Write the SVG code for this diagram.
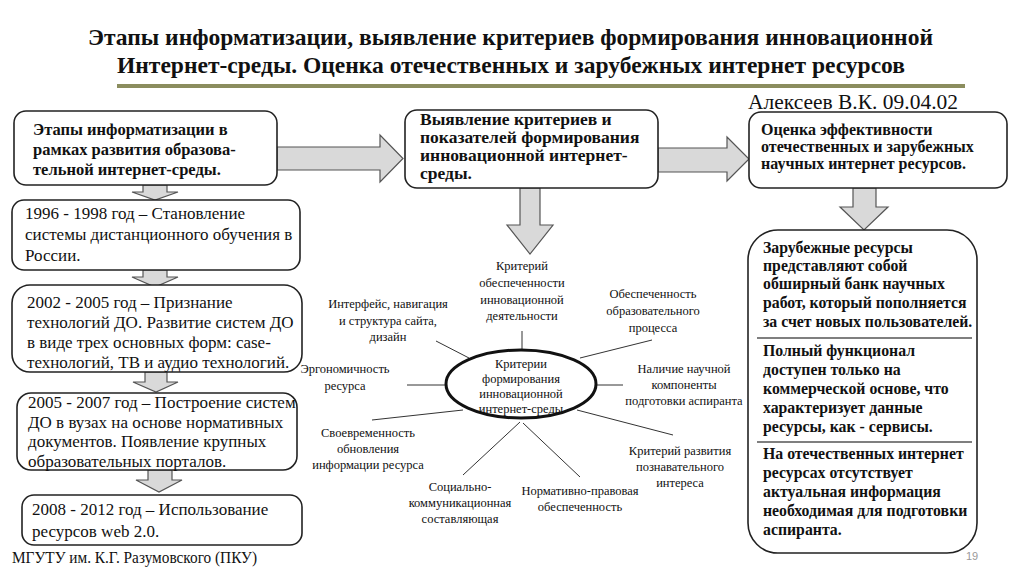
<svg xmlns="http://www.w3.org/2000/svg" width="1024" height="574" viewBox="0 0 1024 574" font-family="'Liberation Serif', 'Times New Roman', Times, 'DejaVu Serif', serif">
<style>
.box{fill:#fff;stroke:#222;stroke-width:1.6}
.arr{fill:#d9d9d9;stroke:#555;stroke-width:1.2;stroke-linejoin:miter}
.spoke{stroke:#333;stroke-width:1;fill:none}
text{font-family:'Liberation Serif','Times New Roman',Times,'DejaVu Serif',serif;fill:#111}
.title{font-weight:bold;font-size:24px}
.body{font-size:17px}
.bb{font-size:16.5px;font-weight:bold}
.cb{font-size:17.5px;font-weight:bold}
.eb{font-size:16px;font-weight:bold}
.rb{font-size:15.8px;font-weight:bold}
.lab{font-size:12.5px;text-anchor:middle}
</style>
<rect width="1024" height="574" fill="#fff"/>
<g id="title">
<text class="title" x="88" y="45" textLength="845" lengthAdjust="spacingAndGlyphs">Этапы информатизации, выявление критериев формирования инновационной</text>
<text class="title" x="117" y="73" textLength="788" lengthAdjust="spacingAndGlyphs">Интернет-среды. Оценка отечественных и зарубежных интернет ресурсов</text>
<line x1="117" y1="86" x2="965" y2="86" stroke="#8b8d5e" stroke-width="4"/>
<text x="748" y="109" font-size="21" textLength="210" lengthAdjust="spacingAndGlyphs">Алексеев В.К. 09.04.02</text>
</g>
<g id="connectors">
<polygon class="arr" points="277,147 380,147 380,135 403,158.5 380,182 380,170 277,170"/>
<polygon class="arr" points="658,148 727,148 727,137 749,159 727,181 727,172 658,172"/>
<polygon class="arr" points="520,188 540,188 540,225 553,225 530,254 507,225 520,225"/>
<polygon class="arr" points="853,188 876,188 876,207 888,207 864,230 840,207 853,207"/>
<polygon class="arr" points="143,185 167,185 167,192 178,192 155,200 132,192 143,192"/>
<polygon class="arr" points="143,270 167,270 167,277 178,277 155,287 132,277 143,277"/>
<polygon class="arr" points="145,372 167,372 167,382 178,382 156,392 133,382 145,382"/>
<polygon class="arr" points="148,470 172,470 172,480 182,480 159,492 136,480 148,480"/>
<line class="spoke" x1="522" y1="331" x2="522" y2="350"/>
<line class="spoke" x1="436" y1="341" x2="469" y2="358"/>
<line class="spoke" x1="580" y1="358" x2="652" y2="340"/>
<line class="spoke" x1="407" y1="385" x2="446" y2="385"/>
<line class="spoke" x1="595" y1="385" x2="623" y2="385"/>
<line class="spoke" x1="372" y1="420" x2="463" y2="410"/>
<line class="spoke" x1="463" y1="475" x2="520" y2="422"/>
<line class="spoke" x1="523" y1="423" x2="580" y2="477"/>
<line class="spoke" x1="577" y1="410" x2="673" y2="435"/>
</g>
<g id="n-stages">
<rect class="box" x="14" y="111" width="263" height="74" rx="12"/>
<text class="bb" x="33" y="135">Этапы информатизации в</text>
<text class="bb" x="33" y="155">рамках развития образова-</text>
<text class="bb" x="33" y="175">тельной интернет-среды.</text>
</g>
<g id="n-1996">
<rect class="box" x="12" y="200" width="288" height="70" rx="12"/>
<text class="body" x="25" y="219">1996 - 1998 год – Становление</text>
<text class="body" x="25" y="240">системы дистанционного обучения в</text>
<text class="body" x="25" y="261">России.</text>
</g>
<g id="n-2002">
<rect class="box" x="12" y="285" width="290" height="87" rx="18"/>
<text class="body" x="27" y="308">2002 - 2005 год – Признание</text>
<text class="body" x="27" y="328">технологий ДО. Развитие систем ДО</text>
<text class="body" x="27" y="348">в виде трех основных форм: case-</text>
<text class="body" x="27" y="368">технологий, ТВ и аудио технологий.</text>
</g>
<g id="n-2005">
<rect class="box" x="17" y="393" width="280" height="77" rx="14"/>
<text class="body" x="28" y="408">2005 - 2007 год – Построение систем</text>
<text class="body" x="28" y="428">ДО в вузах на основе нормативных</text>
<text class="body" x="28" y="447">документов. Появление крупных</text>
<text class="body" x="28" y="467">образовательных порталов.</text>
</g>
<g id="n-2008">
<rect class="box" x="22" y="495" width="280" height="50" rx="12"/>
<text class="body" x="32" y="515">2008 - 2012 год – Использование</text>
<text class="body" x="32" y="537">ресурсов web 2.0.</text>
</g>
<g id="n-criteria">
<rect class="box" x="405" y="110" width="253" height="78" rx="12"/>
<text class="cb" x="420" y="125">Выявление критериев и</text>
<text class="cb" x="420" y="143">показателей формирования</text>
<text class="cb" x="420" y="161">инновационной интернет-</text>
<text class="cb" x="420" y="179">среды.</text>
</g>
<g id="n-eval">
<rect class="box" x="749" y="112" width="258" height="76" rx="12"/>
<text class="eb" x="761" y="135">Оценка эффективности</text>
<text class="eb" x="761" y="152">отечественных и зарубежных</text>
<text class="eb" x="761" y="169">научных интернет ресурсов.</text>
</g>
<g id="n-resources">
<rect class="box" x="748" y="230" width="229" height="323" rx="30"/>
<line x1="757" y1="338" x2="972" y2="338" stroke="#555" stroke-width="1.5"/>
<line x1="757" y1="442" x2="972" y2="442" stroke="#555" stroke-width="1.5"/>
<text class="rb" x="763" y="253">Зарубежные ресурсы</text>
<text class="rb" x="763" y="271">представляют собой</text>
<text class="rb" x="763" y="289">обширный банк научных</text>
<text class="rb" x="763" y="308">работ, который пополняется</text>
<text class="rb" x="763" y="327">за счет новых пользователей.</text>
<text class="rb" x="763" y="356">Полный функционал</text>
<text class="rb" x="763" y="375">доступен только на</text>
<text class="rb" x="763" y="394">коммерческой основе, что</text>
<text class="rb" x="763" y="413">характеризует данные</text>
<text class="rb" x="763" y="432">ресурсы, как - сервисы.</text>
<text class="rb" x="763" y="459">На отечественных интернет</text>
<text class="rb" x="763" y="478">ресурсах отсутствует</text>
<text class="rb" x="763" y="497">актуальная информация</text>
<text class="rb" x="763" y="516">необходимая для подготовки</text>
<text class="rb" x="763" y="535">аспиранта.</text>
</g>
<g id="n-center">
<ellipse cx="521" cy="384" rx="75" ry="34" fill="#fff" stroke="#111" stroke-width="3"/>
<text class="lab" x="521" y="368">Критерии</text>
<text class="lab" x="521" y="383">формирования</text>
<text class="lab" x="521" y="398">инновационной</text>
<text class="lab" x="521" y="413">интернет-среды</text>
</g>
<g id="n-innov">
<text class="lab" x="522" y="270">Критерий</text>
<text class="lab" x="522" y="287">обеспеченности</text>
<text class="lab" x="522" y="304">инновационной</text>
<text class="lab" x="522" y="320">деятельности</text>
</g>
<g id="n-interface">
<text class="lab" x="388" y="308">Интерфейс, навигация</text>
<text class="lab" x="388" y="325">и структура сайта,</text>
<text class="lab" x="388" y="341">дизайн</text>
</g>
<g id="n-process">
<text class="lab" x="653" y="298">Обеспеченность</text>
<text class="lab" x="653" y="315">образовательного</text>
<text class="lab" x="653" y="332">процесса</text>
</g>
<g id="n-ergo">
<text class="lab" x="345" y="373">Эргономичность</text>
<text class="lab" x="345" y="390">ресурса</text>
</g>
<g id="n-science">
<text class="lab" x="684" y="373">Наличие научной</text>
<text class="lab" x="684" y="389">компоненты</text>
<text class="lab" x="684" y="405">подготовки аспиранта</text>
</g>
<g id="n-update">
<text class="lab" x="368" y="437">Своевременность</text>
<text class="lab" x="368" y="453">обновления</text>
<text class="lab" x="368" y="469">информации ресурса</text>
</g>
<g id="n-social">
<text class="lab" x="460" y="491">Социально-</text>
<text class="lab" x="460" y="507">коммуникационная</text>
<text class="lab" x="460" y="523">составляющая</text>
</g>
<g id="n-legal">
<text class="lab" x="580" y="495">Нормативно-правовая</text>
<text class="lab" x="580" y="511">обеспеченность</text>
</g>
<g id="n-cognitive">
<text class="lab" x="680" y="455">Критерий развития</text>
<text class="lab" x="680" y="471">познавательного</text>
<text class="lab" x="680" y="487">интереса</text>
</g>
<g id="footer">
<text x="12" y="563" font-size="16" textLength="245" lengthAdjust="spacingAndGlyphs">МГУТУ им. К.Г. Разумовского (ПКУ)</text>
<text x="966" y="560" font-size="11" style="font-family:'Liberation Sans',Arial,sans-serif;fill:#999">19</text>
</g>
</svg>
